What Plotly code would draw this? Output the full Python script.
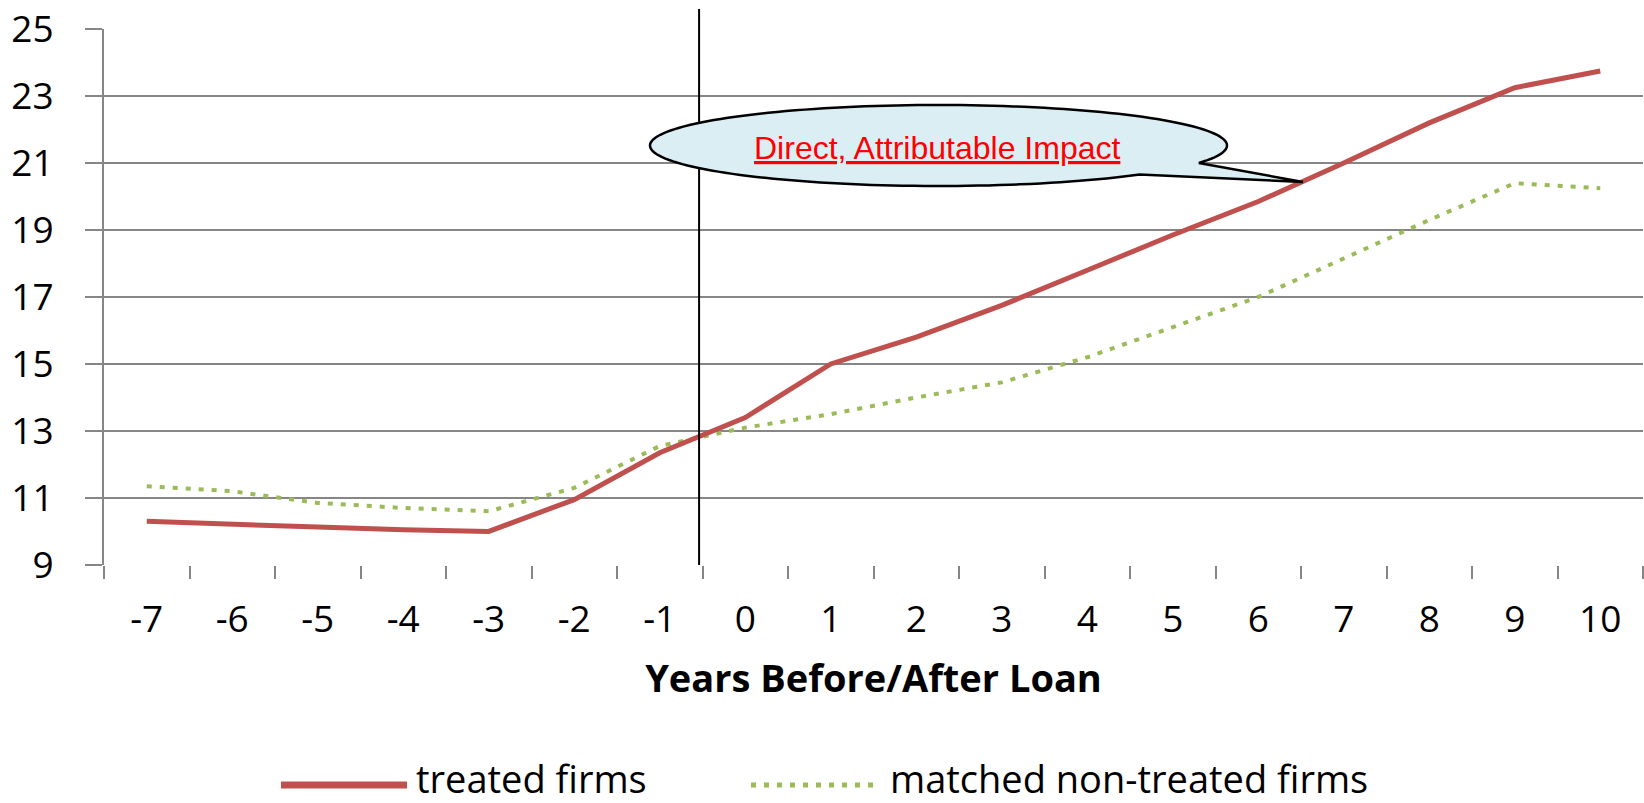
import numpy as np
import plotly.graph_objects as go

# ---------------- data ----------------
years = ["-7", "-6", "-5", "-4", "-3", "-2", "-1", "0", "1", "2",
         "3", "4", "5", "6", "7", "8", "9", "10"]
treated = [10.3, 10.2, 10.13, 10.05, 10.0, 10.95, 12.35, 13.4, 15.0, 15.8,
           16.75, 17.8, 18.85, 19.85, 21.0, 22.2, 23.25, 23.75]
matched = [11.35, 11.2, 10.85, 10.7, 10.6, 11.3, 12.55, 13.1, 13.5, 14.0,
           14.45, 15.2, 16.1, 17.0, 18.15, 19.3, 20.4, 20.25]
y_ticks = [9, 11, 13, 15, 17, 19, 21, 23, 25]
series_names = ["treated firms", "matched non-treated firms"]
callout_text = "Direct, Attributable Impact"
x_title = "Years Before/After Loan"

# ---------------- layout geometry ----------------
W, H = 1644, 803
# plot area in page pixels
PL, PR, PT, PB = 104, 1643, 29, 565
ML, MR = PL, W - PR
MT, MB = PT, H - PB
PW = PR - PL
PH = PB - PT

def px2x(px):
    return (px - PL) / PW

def py2y(py):
    return (PB - py) / PH

RED = "#C0504D"
GREEN = "#9BBB59"
GRID = "#868686"

fig = go.Figure()
fig.add_trace(go.Scatter(x=years, y=matched, mode="lines", name=series_names[1],
                         line=dict(color=GREEN, width=4, dash="5px,8px"),
                         showlegend=False))
fig.add_trace(go.Scatter(x=years, y=treated, mode="lines", name=series_names[0],
                         line=dict(color=RED, width=5),
                         showlegend=False))

shapes = []
# vertical "loan" line between -1 and 0 (category boundary)
boundary_idx = years.index("0") - 0.54
xv = (boundary_idx + 0.5) / len(years)
shapes.append(dict(type="line", xref="paper", yref="paper",
                   x0=xv, x1=xv, y0=0, y1=py2y(9),
                   line=dict(color="black", width=2), layer="above"))

# callout bubble (ellipse with tail)
cx, cy, rx, ry = 938.5, 145.5, 288.5, 40.5
a_start = np.deg2rad(25.5)
a_end = np.deg2rad(45.8 - 360)
angs = np.linspace(a_start, a_end, 160)
pts = [(cx + rx * np.cos(a), cy + ry * np.sin(a)) for a in angs]
tip = (1303, 182)
pts.append(tip)
path = "M " + " L ".join(f"{px2x(p[0]):.5f},{py2y(p[1]):.5f}" for p in pts) + " Z"
shapes.append(dict(type="path", xref="paper", yref="paper", path=path,
                   fillcolor="#DAEEF3", line=dict(color="black", width=2.5),
                   layer="above"))

# manual legend samples
LEG_Y = 785
shapes.append(dict(type="line", xref="paper", yref="paper",
                   x0=px2x(281), x1=px2x(407), y0=py2y(LEG_Y), y1=py2y(LEG_Y),
                   line=dict(color=RED, width=7)))
shapes.append(dict(type="line", xref="paper", yref="paper",
                   x0=px2x(751), x1=px2x(874), y0=py2y(LEG_Y), y1=py2y(LEG_Y),
                   line=dict(color=GREEN, width=5, dash="5px,8px")))

annotations = [
    dict(xref="paper", yref="paper", x=px2x(937), y=py2y(148),
         text=f"<u>{callout_text}</u>", showarrow=False,
         font=dict(family="Liberation Sans, Arial", size=32, color="#FF0000"),
         xanchor="center", yanchor="middle"),
    dict(xref="paper", yref="paper", x=px2x(415), y=py2y(805),
         text=series_names[0], showarrow=False,
         font=dict(family="Open Sans", size=38, color="black"),
         xanchor="left", yanchor="bottom", borderpad=0),
    dict(xref="paper", yref="paper", x=px2x(889), y=py2y(805),
         text=series_names[1], showarrow=False,
         font=dict(family="Open Sans", size=38, color="black"),
         xanchor="left", yanchor="bottom", borderpad=0),
]

fig.update_layout(
    width=W, height=H,
    margin=dict(l=ML, r=MR, t=MT, b=MB, pad=0, autoexpand=False),
    paper_bgcolor="white", plot_bgcolor="white",
    shapes=shapes, annotations=annotations,
    showlegend=False,
    xaxis=dict(type="category", categoryorder="array", categoryarray=years,
               range=[-0.5, len(years) - 0.5], autorange=False,
               tickson="boundaries", showgrid=False,
               ticks="outside", ticklen=13, tickwidth=2, tickcolor=GRID,
               showline=False, zeroline=False, automargin=False,
               tickfont=dict(family="Open Sans", size=37, color="black"),
               ticklabelstandoff=29,
               title=dict(text=f"<b>{x_title}</b>", standoff=23,
                          font=dict(family="Open Sans", size=38, color="black"))),
    yaxis=dict(range=[8.997, 25.003], autorange=False, tickvals=y_ticks,
               showgrid=True, gridcolor=GRID, gridwidth=2, zeroline=False,
               automargin=False, ticklabeloverflow="allow",
               showline=True, linecolor=GRID, linewidth=2,
               ticks="outside", ticklen=17, tickwidth=2, tickcolor=GRID,
               tickfont=dict(family="Open Sans", size=37, color="black"),
               ticklabelstandoff=24),
)

fig.write_html(
    "out.html",
    config={"displayModeBar": False},
    post_script="document.body.style.margin='0';document.body.style.overflow='hidden';",
)
